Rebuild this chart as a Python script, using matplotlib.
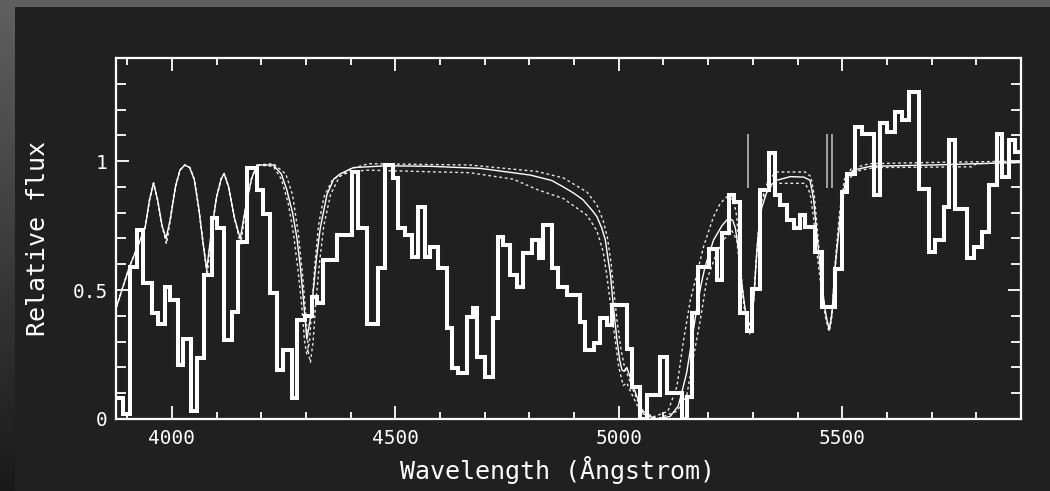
import numpy as np
import matplotlib
matplotlib.use("Agg")
import matplotlib.pyplot as plt
from matplotlib.ticker import MultipleLocator, FixedLocator, FixedFormatter
from matplotlib.patches import Rectangle

# ---------------- data ----------------
# observed (binned) spectrum: bin edges (Angstrom) and relative flux per bin
bin_edges = [3878, 3890, 3906.3, 3921.3, 3936.1, 3954.9, 3969.7, 3984.7, 3995.9, 4014.5,
             4025.7, 4042.2, 4055.7, 4072, 4089.2, 4100.4, 4116.8, 4134, 4148.8, 4168.3,
             4190, 4204.7, 4219.7, 4234.7, 4249.5, 4268.3, 4279.5, 4298.1, 4313.1, 4324.3,
             4339.1, 4369.1, 4402.6, 4417.4, 4436.2, 4462.2, 4477.2, 4495.8, 4507, 4522,
             4537, 4551.7, 4566.7, 4577.9, 4596.5, 4615.3, 4626.5, 4641.3, 4660.1, 4674.9,
             4682.5, 4701, 4719.6, 4730.8, 4742, 4757, 4772, 4786.8, 4805.6, 4820.4,
             4831.5, 4850.4, 4865.1, 4883.9, 4913.7, 4924.9, 4943.5, 4958.5, 4973.5, 4984.7,
             5018.3, 5029.4, 5048, 5063, 5092.8, 5107.8, 5141.4, 5153.2, 5164.4, 5176.8,
             5200.9, 5219.7, 5230.9, 5245.7, 5256.9, 5271.9, 5286.9, 5298.1, 5316.7, 5335.2,
             5350.2, 5361.4, 5376.4, 5391.2, 5406.2, 5417.4, 5439.8, 5454.8, 5484.5, 5499.5,
             5510.7, 5529.3, 5544.3, 5570.3, 5585.3, 5600.3, 5618.9, 5633.9, 5648.7, 5672.6,
             5693.4, 5708.4, 5727, 5738.2, 5753.2, 5779.4, 5794.2, 5813, 5827.7, 5846.5,
             5857.7, 5872.5, 5887.5, 5901]
obs_flux = [0.08, 0.02, 0.59, 0.733, 0.526, 0.41, 0.37, 0.51, 0.46, 0.21,
            0.31, 0.03, 0.236, 0.56, 0.78, 0.74, 0.306, 0.416, 0.687, 0.975,
            0.89, 0.795, 0.487, 0.19, 0.268, 0.08, 0.384, 0.40, 0.474, 0.45,
            0.616, 0.713, 0.958, 0.74, 0.37, 0.584, 0.984, 0.933, 0.74, 0.713,
            0.629, 0.823, 0.629, 0.668, 0.584, 0.352, 0.196, 0.177, 0.396, 0.429,
            0.24, 0.164, 0.39, 0.707, 0.675, 0.557, 0.513, 0.642, 0.694, 0.623,
            0.752, 0.584, 0.513, 0.48, 0.377, 0.268, 0.293, 0.39, 0.365, 0.442,
            0.27, 0.125, 0.0, 0.093, 0.242, 0.1, 0.0, 0.087, 0.41, 0.59,
            0.66, 0.539, 0.72, 0.868, 0.842, 0.41, 0.343, 0.506, 0.888, 1.03,
            0.868, 0.83, 0.77, 0.74, 0.79, 0.745, 0.648, 0.435, 0.58, 0.88,
            0.95, 1.133, 1.107, 0.868, 1.146, 1.114, 1.19, 1.158, 1.268, 0.893,
            0.648, 0.694, 0.823, 1.081, 0.816, 0.623, 0.668, 0.726, 0.907, 1.107,
            0.939, 1.081, 1.036]

# best-fit model (solid thin line)
model_wave = [3876, 3905, 3940, 3950, 3959, 3968, 3978, 3987, 3997, 4008, 4018, 4029, 4040,
              4050, 4060, 4070, 4078, 4088, 4100, 4110, 4117, 4127, 4140, 4153, 4165, 4178,
              4190, 4227, 4245, 4257, 4270, 4280, 4288, 4294, 4302, 4309, 4316, 4324, 4332,
              4347, 4362, 4376, 4406, 4480, 4578, 4690, 4802, 4850, 4876, 4900, 4920, 4940,
              4951, 4962, 4970, 4976, 4981, 4988, 4996, 5002, 5007, 5012, 5018, 5024, 5030,
              5042, 5055, 5085, 5115, 5133, 5142, 5152, 5163, 5175, 5184, 5193, 5212, 5231,
              5246, 5255, 5261, 5268, 5276, 5283, 5290, 5296, 5302, 5309, 5314, 5320, 5335,
              5354, 5384, 5414, 5428, 5436, 5443, 5454, 5462, 5466, 5471, 5477, 5484, 5492,
              5499, 5510, 5525, 5563, 5700, 5900]
model_flux = [0.435, 0.59, 0.74, 0.85, 0.915, 0.85, 0.75, 0.70, 0.78, 0.90, 0.965, 0.985, 0.975,
              0.93, 0.82, 0.68, 0.58, 0.72, 0.86, 0.93, 0.952, 0.90, 0.78, 0.70, 0.82, 0.93,
              0.985, 0.985, 0.95, 0.89, 0.80, 0.70, 0.58, 0.47, 0.31, 0.38, 0.49, 0.63, 0.74,
              0.87, 0.93, 0.95, 0.975, 0.982, 0.98, 0.972, 0.946, 0.925, 0.90, 0.875, 0.85, 0.81,
              0.785, 0.74, 0.694, 0.62, 0.565, 0.435, 0.306, 0.23, 0.19, 0.185, 0.20, 0.17, 0.138,
              0.08, 0.02, 0.0, 0.01, 0.05, 0.11, 0.18, 0.30, 0.435, 0.52, 0.59, 0.694, 0.75,
              0.78, 0.77, 0.74, 0.655, 0.513, 0.422, 0.36, 0.38, 0.46, 0.655, 0.75, 0.82, 0.90,
              0.926, 0.94, 0.938, 0.926, 0.85, 0.72, 0.525, 0.42, 0.383, 0.345, 0.41, 0.59, 0.72,
              0.85, 0.94, 0.965, 0.98, 0.985, 0.995]

# blue-side shared part of the two bracketing models (dashed)
bracket_wave_blue = [3876, 3905, 3940, 3950, 3959, 3968, 3978, 3988, 3997, 4008, 4018, 4029,
                     4040, 4050, 4060, 4070, 4079, 4088, 4100, 4110, 4117, 4127, 4140, 4154,
                     4165, 4178, 4190]
bracket_flux_blue = [0.435, 0.59, 0.74, 0.85, 0.915, 0.85, 0.75, 0.68, 0.78, 0.90, 0.965, 0.985,
                     0.975, 0.93, 0.82, 0.68, 0.56, 0.72, 0.86, 0.93, 0.952, 0.90, 0.78, 0.68,
                     0.82, 0.93, 0.985]

# upper bracketing model (dashed)
upper_wave = [4227, 4255, 4270, 4283, 4293, 4300, 4306, 4310, 4316, 4322, 4330, 4340, 4355,
              4375, 4400, 4440, 4667, 4817, 4876, 4929, 4951, 4965, 4975, 4983, 4990, 4997,
              5005, 5013, 5020, 5030, 5045, 5065, 5110, 5130, 5145, 5160, 5175, 5190, 5212,
              5227, 5242, 5257, 5264, 5272, 5280, 5287, 5293, 5299, 5305, 5312, 5320, 5335,
              5354, 5417, 5430, 5438, 5446, 5455, 5463, 5470, 5476, 5484, 5494, 5505, 5520,
              5560, 5700, 5900]
upper_flux = [0.99, 0.95, 0.87, 0.72, 0.55, 0.40, 0.25, 0.22, 0.30, 0.45, 0.60, 0.75, 0.87,
              0.94, 0.97, 0.99, 0.985, 0.96, 0.935, 0.88, 0.83, 0.77, 0.70, 0.60, 0.48, 0.37,
              0.27, 0.20, 0.17, 0.12, 0.06, 0.0, 0.03, 0.125, 0.306, 0.46, 0.565, 0.67, 0.785,
              0.836, 0.862, 0.85, 0.785, 0.60, 0.45, 0.36, 0.33, 0.40, 0.55, 0.72, 0.85, 0.93,
              0.958, 0.958, 0.94, 0.86, 0.70, 0.52, 0.40, 0.34, 0.38, 0.60, 0.80, 0.93, 0.97,
              0.99, 0.995, 1.0]

# lower bracketing model (dashed)
lower_wave = [4227, 4245, 4260, 4272, 4282, 4290, 4297, 4302, 4308, 4314, 4320, 4328, 4340,
              4360, 4400, 4440, 4667, 4764, 4817, 4876, 4929, 4951, 4965, 4973, 4981, 4992,
              5000, 5010, 5018, 5028, 5045, 5085, 5130, 5152, 5167, 5182, 5197, 5216, 5234,
              5253, 5264, 5272, 5280, 5287, 5294, 5300, 5307, 5314, 5320, 5339, 5354, 5417,
              5428, 5436, 5445, 5455, 5464, 5472, 5479, 5487, 5497, 5510, 5530, 5570, 5790,
              5800, 5900]
lower_flux = [0.98, 0.93, 0.84, 0.72, 0.58, 0.45, 0.30, 0.25, 0.30, 0.45, 0.60, 0.75, 0.86,
              0.93, 0.96, 0.965, 0.955, 0.93, 0.89, 0.855, 0.79, 0.73, 0.65, 0.56, 0.45, 0.306,
              0.20, 0.13, 0.14, 0.10, 0.04, 0.0, 0.03, 0.09, 0.24, 0.38, 0.54, 0.63, 0.694,
              0.73, 0.694, 0.565, 0.44, 0.36, 0.34, 0.42, 0.60, 0.75, 0.85, 0.90, 0.914, 0.914,
              0.876, 0.78, 0.62, 0.48, 0.38, 0.35, 0.45, 0.65, 0.82, 0.92, 0.96, 0.975, 0.978,
              0.99, 0.995]

# line-position markers
marker_waves = [5290, 5467, 5477]
marker_bottom = 0.894
marker_top = 1.107

x_major = [4000, 4500, 5000, 5500]
x_major_labels = ["4000", "4500", "5000", "5500"]
y_major = [0, 0.5, 1]
y_major_labels = ["0", "0.5", "1"]

# ---------------- figure ----------------
W, H = 1050, 491
BG = "#202020"
FG = "white"
plt.rcParams["font.family"] = ["DejaVu Sans Mono", "DejaVu Sans"]

fig = plt.figure(figsize=(W / 100, H / 100), dpi=100, facecolor=BG)

# slide-like frame: grey top band and left gradient strip
fig.patches.append(Rectangle((0, 1 - 7 / H), 1, 7 / H, transform=fig.transFigure,
                             facecolor="#5f5f5f", edgecolor="none", zorder=0))
strip = fig.add_axes([0, 0, 14 / W, 1 - 7 / H])
grad = np.linspace(0.37, 0.10, 256).reshape(-1, 1)
strip.imshow(grad, aspect="auto", cmap="gray", vmin=0, vmax=1, extent=[0, 1, 0, 1])
strip.set_axis_off()

ax = fig.add_axes([116 / W, (H - 419) / H, 905 / W, 361 / H])
ax.set_facecolor(BG)

# observed spectrum
ax.stairs(obs_flux, bin_edges, baseline=None, color=FG, linewidth=2.9,
          joinstyle="miter", zorder=4)

# models
dash = (0, (2.0, 2.0))
ax.plot(bracket_wave_blue + upper_wave, bracket_flux_blue + upper_flux,
        color="#e6e6e6", linewidth=1.0, linestyle=dash, zorder=3)
ax.plot(bracket_wave_blue + lower_wave, bracket_flux_blue + lower_flux,
        color="#e6e6e6", linewidth=1.0, linestyle=dash, zorder=3)
ax.plot(model_wave, model_flux, color=FG, linewidth=1.0, zorder=3)

# markers
ax.vlines(marker_waves, marker_bottom, marker_top, color="#b8b8b8", linewidth=1.2, zorder=3)

ax.set_xlim(3875, 5900)
ax.set_ylim(0, 1.4)

for s in ax.spines.values():
    s.set_color(FG)
    s.set_linewidth(1.6)

ax.xaxis.set_major_locator(FixedLocator(x_major))
ax.xaxis.set_major_formatter(FixedFormatter(x_major_labels))
ax.xaxis.set_minor_locator(MultipleLocator(100))
ax.yaxis.set_major_locator(FixedLocator(y_major))
ax.yaxis.set_major_formatter(FixedFormatter(y_major_labels))
ax.yaxis.set_minor_locator(MultipleLocator(0.1))

ax.tick_params(which="both", direction="in", top=True, right=True, colors=FG,
               width=1.3)
ax.tick_params(axis="x", which="major", length=9.5, pad=7, labelsize=14)
ax.tick_params(axis="x", which="minor", length=5)
ax.tick_params(axis="y", which="major", length=9.5, pad=6, labelsize=14)
ax.tick_params(axis="y", which="minor", length=7)

ax.set_xlabel("Wavelength (Ångstrom)", color=FG, fontsize=18)
ax.set_ylabel("Relative flux", color=FG, fontsize=18)
ax.xaxis.set_label_coords((558 - 116) / 905, (419 - 456) / 361)
ax.yaxis.set_label_coords((50 - 116) / 905, 0.5)

fig.savefig("out.png", dpi=100, facecolor=BG)
